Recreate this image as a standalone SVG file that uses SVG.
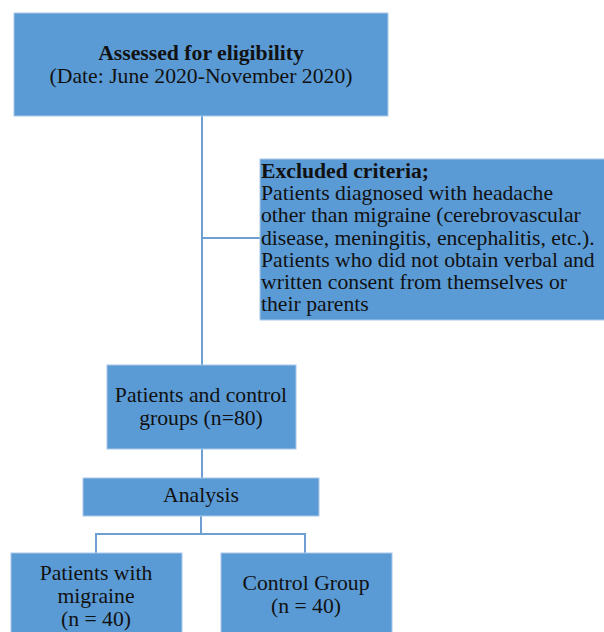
<svg xmlns="http://www.w3.org/2000/svg" width="604" height="632" viewBox="0 0 604 632">
<style>
.box{fill:#5b9bd5;stroke:#a9c8ea;stroke-width:1}
.t{font-family:"Liberation Serif","Times New Roman",serif;font-size:21.7px;fill:#111}
.c{text-anchor:middle}
.b{font-weight:bold}
.ln{fill:none;stroke:#6d9fd3;stroke-width:2}
</style>
<rect width="604" height="632" fill="#fff"/>
<g id="connectors">
<path class="ln" d="M202 116V365"/>
<path class="ln" d="M202 238H260"/>
<path class="ln" d="M202 449V478"/>
<path class="ln" d="M201 516V534"/>
<path class="ln" d="M96 553V534H305V553"/>
</g>
<g id="assessed">
<rect class="box" x="14" y="13" width="374" height="103"/>
<text class="t c b" x="201" y="60">Assessed for eligibility</text>
<text class="t c" x="201" y="83">(Date: June 2020-November 2020)</text>
</g>
<g id="excluded">
<rect class="box" x="260" y="159" width="350" height="161"/>
<text class="t" x="261" y="178"><tspan class="b">Excluded criteria;</tspan><tspan x="261" dy="22.2">Patients diagnosed with headache</tspan><tspan x="261" dy="22.2">other than migraine (cerebrovascular</tspan><tspan x="261" dy="22.2">disease, meningitis, encephalitis, etc.).</tspan><tspan x="261" dy="22.2">Patients who did not obtain verbal and</tspan><tspan x="261" dy="22.2">written consent from themselves or</tspan><tspan x="261" dy="22.2">their parents</tspan></text>
</g>
<g id="groups">
<rect class="box" x="107" y="365" width="189" height="84"/>
<text class="t c" x="201" y="402">Patients and control</text>
<text class="t c" x="201" y="425">groups (n=80)</text>
</g>
<g id="analysis">
<rect class="box" x="83" y="478" width="236" height="38"/>
<text class="t c" x="201" y="502">Analysis</text>
</g>
<g id="patients">
<rect class="box" x="11" y="553" width="171" height="85"/>
<text class="t c" x="96" y="580">Patients with</text>
<text class="t c" x="96" y="603">migraine</text>
<text class="t c" x="96" y="626">(n = 40)</text>
</g>
<g id="control">
<rect class="box" x="221" y="553" width="171" height="85"/>
<text class="t c" x="306" y="590">Control Group</text>
<text class="t c" x="306" y="613">(n = 40)</text>
</g>
</svg>
